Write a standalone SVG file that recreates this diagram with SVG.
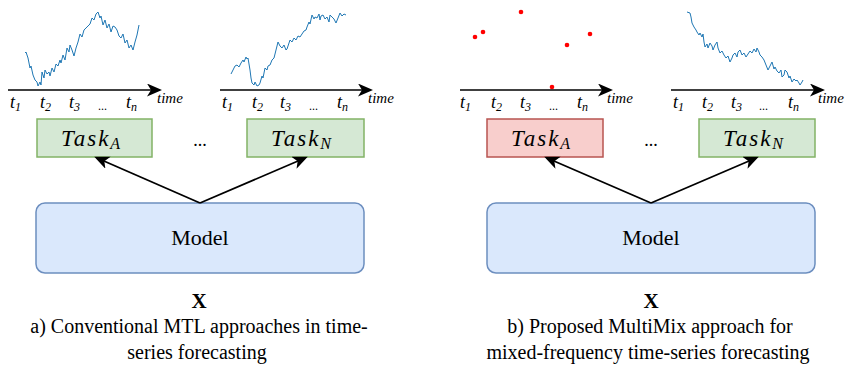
<svg xmlns="http://www.w3.org/2000/svg" width="846" height="367" viewBox="0 0 846 367">
<defs>
<marker id="arr" markerUnits="userSpaceOnUse" markerWidth="16" markerHeight="14" refX="12" refY="6.5" orient="auto">
<path d="M0,0 L15,6.5 L0,13 L4,6.5 Z" fill="#000"/>
</marker>
<style>
.axis{stroke:#000;stroke-width:1.5;fill:none;marker-end:url(#arr)}
.conn{stroke:#000;stroke-width:1.8;fill:none;marker-end:url(#arr)}
.ts{stroke:#1f77b4;stroke-width:1;fill:none;stroke-linejoin:round}
.dot{fill:#ff0000}
.green{fill:#d5e8d4;stroke:#82b366;stroke-width:1.5}
.red{fill:#f8cecc;stroke:#b85450;stroke-width:1.5}
.model{fill:#dae8fc;stroke:#6c8ebf;stroke-width:1.5}
</style>
</defs>
<rect width="846" height="367" fill="#fff"/>

<!-- time series plots -->
<g id="plot-a1">
<polyline class="ts" points="25,53 26,52 28,58 30,68 31,66 33,75 35,80 37,82 38,86 40,82 41,85 42,72 44,78 45,70 47,74 49,72 50,76 52,68 54,72 56,64 58,66 60,60 61,63 63,55 65,60 67,48 69,52 70,45 72,50 74,56 76,48 78,42 80,34 82,37 84,30 86,28 88,26 90,24 92,18 94,20 96,14 98,12 100,18 101,16 103,25 105,20 107,28 109,24 111,32 113,26 115,27 117,30 119,36 121,38 123,34 125,43 127,40 129,48 131,45 133,50 135,42 137,35 139,25"/>
<line class="axis" x1="8" y1="90" x2="159" y2="90"/>
<text style="font-family:'Liberation Serif',serif;font-style:italic;font-size:18px" x="10" y="108">t<tspan style="font-size:12px" dy="3">1</tspan></text>
<text style="font-family:'Liberation Serif',serif;font-style:italic;font-size:18px" x="40" y="108">t<tspan style="font-size:12px" dy="3">2</tspan></text>
<text style="font-family:'Liberation Serif',serif;font-style:italic;font-size:18px" x="69" y="108">t<tspan style="font-size:12px" dy="3">3</tspan></text>
<text style="font-family:'Liberation Serif',serif;font-size:12px" x="98" y="110">...</text>
<text style="font-family:'Liberation Serif',serif;font-style:italic;font-size:18px" x="126" y="108">t<tspan style="font-size:12px" dy="3">n</tspan></text>
<text style="font-family:'Liberation Serif',serif;font-style:italic;font-size:15px" x="157" y="103">time</text>
</g>

<g id="plot-a2">
<polyline class="ts" points="231,74 233,70 235,66 237,65 239,67 241,63 243,60 244,62 246,57 247,59 248,58 250,70 251,78 252,83 254,85 255,82 257,86 259,85 260,83 262,76 263,78 265,68 267,70 268,66 270,65 272,60 274,58 276,50 278,42 280,46 282,48 284,45 286,50 287,49 289,43 290,40 292,42 294,38 296,40 298,36 300,37 302,34 304,31 306,30 307,27 309,22 310,24 312,15 314,19 315,17 317,18 319,14 320,20 321,16 323,15 325,19 327,17 329,22 330,15 332,17 334,19 336,23 338,18 340,13 342,16 344,14 346,15"/>
<line class="axis" x1="220" y1="90" x2="370" y2="90"/>
<text style="font-family:'Liberation Serif',serif;font-style:italic;font-size:18px" x="222" y="108">t<tspan style="font-size:12px" dy="3">1</tspan></text>
<text style="font-family:'Liberation Serif',serif;font-style:italic;font-size:18px" x="252" y="108">t<tspan style="font-size:12px" dy="3">2</tspan></text>
<text style="font-family:'Liberation Serif',serif;font-style:italic;font-size:18px" x="280" y="108">t<tspan style="font-size:12px" dy="3">3</tspan></text>
<text style="font-family:'Liberation Serif',serif;font-size:12px" x="309" y="110">...</text>
<text style="font-family:'Liberation Serif',serif;font-style:italic;font-size:18px" x="337" y="108">t<tspan style="font-size:12px" dy="3">n</tspan></text>
<text style="font-family:'Liberation Serif',serif;font-style:italic;font-size:15px" x="368" y="103">time</text>
</g>

<g id="plot-b1">
<circle class="dot" cx="475" cy="37" r="2.3"/>
<circle class="dot" cx="483" cy="32" r="2.3"/>
<circle class="dot" cx="521" cy="12" r="2.3"/>
<circle class="dot" cx="567" cy="45" r="2.3"/>
<circle class="dot" cx="590" cy="34" r="2.3"/>
<circle class="dot" cx="552" cy="87" r="2.3"/>
<line class="axis" x1="460" y1="90" x2="610" y2="90"/>
<text style="font-family:'Liberation Serif',serif;font-style:italic;font-size:18px" x="460" y="108">t<tspan style="font-size:12px" dy="3">1</tspan></text>
<text style="font-family:'Liberation Serif',serif;font-style:italic;font-size:18px" x="491" y="108">t<tspan style="font-size:12px" dy="3">2</tspan></text>
<text style="font-family:'Liberation Serif',serif;font-style:italic;font-size:18px" x="520" y="108">t<tspan style="font-size:12px" dy="3">3</tspan></text>
<text style="font-family:'Liberation Serif',serif;font-size:12px" x="549" y="110">...</text>
<text style="font-family:'Liberation Serif',serif;font-style:italic;font-size:18px" x="577" y="108">t<tspan style="font-size:12px" dy="3">n</tspan></text>
<text style="font-family:'Liberation Serif',serif;font-style:italic;font-size:15px" x="607" y="103">time</text>
</g>

<g id="plot-b2">
<polyline class="ts" points="687,12 690,13 691,17 692,23 694,27 696,30 697,32 699,35 700,33 702,37 703,34 704,42 705,47 707,44 708,48 710,43 712,46 713,50 715,45 717,42 718,48 720,53 722,51 724,55 726,58 728,56 730,62 732,58 733,55 735,53 737,57 738,52 740,50 742,55 744,53 746,57 748,54 750,51 752,53 754,49 756,52 757,48 759,52 760,55 762,57 764,60 766,65 768,70 770,66 772,62 774,69 775,67 777,71 779,73 781,70 782,77 784,75 785,70 787,72 789,78 790,76 792,82 794,79 796,81 797,80 799,83 800,85 802,82 803,80"/>
<line class="axis" x1="671" y1="90" x2="822" y2="90"/>
<text style="font-family:'Liberation Serif',serif;font-style:italic;font-size:18px" x="673" y="108">t<tspan style="font-size:12px" dy="3">1</tspan></text>
<text style="font-family:'Liberation Serif',serif;font-style:italic;font-size:18px" x="702" y="108">t<tspan style="font-size:12px" dy="3">2</tspan></text>
<text style="font-family:'Liberation Serif',serif;font-style:italic;font-size:18px" x="731" y="108">t<tspan style="font-size:12px" dy="3">3</tspan></text>
<text style="font-family:'Liberation Serif',serif;font-size:12px" x="759" y="110">...</text>
<text style="font-family:'Liberation Serif',serif;font-style:italic;font-size:18px" x="788" y="108">t<tspan style="font-size:12px" dy="3">n</tspan></text>
<text style="font-family:'Liberation Serif',serif;font-style:italic;font-size:15px" x="818" y="103">time</text>
</g>

<!-- nodes -->
<g id="taskA-a">
<rect class="green" x="37" y="119" width="115" height="38"/>
<text style="font-family:'Liberation Serif',serif;font-style:italic;font-size:23px;letter-spacing:2px" x="61" y="146">Task<tspan style="font-size:16px;letter-spacing:0" dy="3">A</tspan></text>
</g>
<g id="ell-a"><text style="font-family:'Liberation Serif',serif;font-size:18px" text-anchor="middle" x="200" y="146">...</text></g>
<g id="taskN-a">
<rect class="green" x="247" y="119" width="117" height="38"/>
<text style="font-family:'Liberation Serif',serif;font-style:italic;font-size:23px;letter-spacing:2px" x="271" y="146">Task<tspan style="font-size:16px;letter-spacing:0" dy="3">N</tspan></text>
</g>
<g id="model-a">
<rect class="model" x="36" y="203" width="328" height="70" rx="9"/>
<text style="font-family:'Liberation Serif',serif;font-size:22px" text-anchor="middle" x="200" y="245">Model</text>
</g>

<g id="taskA-b">
<rect class="red" x="487" y="119" width="116" height="38"/>
<text style="font-family:'Liberation Serif',serif;font-style:italic;font-size:23px;letter-spacing:2px" x="511" y="146">Task<tspan style="font-size:16px;letter-spacing:0" dy="3">A</tspan></text>
</g>
<g id="ell-b"><text style="font-family:'Liberation Serif',serif;font-size:18px" text-anchor="middle" x="651" y="146">...</text></g>
<g id="taskN-b">
<rect class="green" x="699" y="119" width="116" height="38"/>
<text style="font-family:'Liberation Serif',serif;font-style:italic;font-size:23px;letter-spacing:2px" x="723" y="146">Task<tspan style="font-size:16px;letter-spacing:0" dy="3">N</tspan></text>
</g>
<g id="model-b">
<rect class="model" x="487" y="203" width="328" height="70" rx="9"/>
<text style="font-family:'Liberation Serif',serif;font-size:22px" text-anchor="middle" x="651" y="245">Model</text>
</g>

<!-- connectors -->
<g id="connectors">
<line class="conn" x1="200" y1="203" x2="97" y2="158"/>
<line class="conn" x1="200" y1="203" x2="305" y2="158"/>
<line class="conn" x1="651" y1="203" x2="547" y2="158"/>
<line class="conn" x1="651" y1="203" x2="756" y2="158"/>
</g>

<!-- labels -->
<g id="caption-a">
<text style="font-family:'Liberation Serif',serif;font-weight:bold;font-size:21px" text-anchor="middle" x="199" y="308">X</text>
<text style="font-family:'Liberation Serif',serif;font-size:20px" text-anchor="middle" x="199" y="333">a) Conventional MTL approaches in time-</text>
<text style="font-family:'Liberation Serif',serif;font-size:20px" text-anchor="middle" x="197" y="359">series forecasting</text>
</g>
<g id="caption-b">
<text style="font-family:'Liberation Serif',serif;font-weight:bold;font-size:21px" text-anchor="middle" x="651" y="308">X</text>
<text style="font-family:'Liberation Serif',serif;font-size:20px" text-anchor="middle" x="650" y="333">b) Proposed MultiMix approach for</text>
<text style="font-family:'Liberation Serif',serif;font-size:20px" text-anchor="middle" x="648" y="359">mixed-frequency time-series forecasting</text>
</g>
</svg>
